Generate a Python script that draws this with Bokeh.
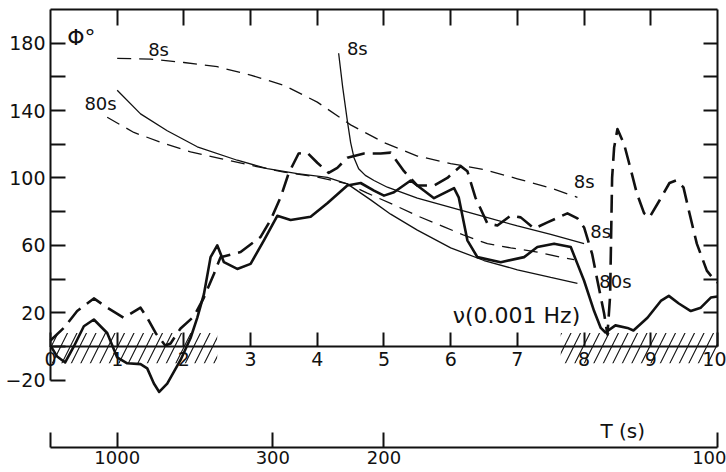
from bokeh.plotting import figure
from bokeh.models import Range1d, LinearAxis, FixedTicker, CustomJSTickFormatter
from bokeh.core.properties import value
from bokeh.embed import file_html
from bokeh.resources import INLINE

INK = "#111111"
FONT = "DejaVu Sans"

# ---- data: frequency nu (mHz) vs phase Phi (degrees) ----
# model curves (thin)
model_dash_8s_x = [1.0, 1.5, 2.0, 2.5, 3.0, 3.5, 4.0, 4.5, 5.0, 5.5, 6.0, 6.5, 7.0, 7.5, 7.9]
model_dash_8s_y = [171, 170.5, 168.5, 166, 161, 155, 145, 131.5, 121, 113, 108.5, 105, 99.5, 94, 88.5]

model_dash_80s_x = [0.85, 1.25, 1.7, 2.1, 2.55, 3.0, 3.5, 4.0, 4.45, 4.75, 5.15, 5.5, 5.9, 6.2, 6.55, 6.9, 7.3, 7.65, 7.85]
model_dash_80s_y = [136, 127, 120.5, 115.5, 111.5, 107.5, 103.5, 100.5, 96.5, 91, 84, 77.5, 71, 66, 61, 58.5, 56, 53, 51.5]

model_solid_80s_x = [1.0, 1.35, 1.75, 2.2, 2.8, 3.25, 3.7, 4.15, 4.45, 4.8, 5.1, 5.5, 6.0, 6.5, 7.0, 7.5, 7.9]
model_solid_80s_y = [152, 138, 128, 118.5, 110.5, 105.5, 102.5, 100.3, 96.5, 87, 78.5, 69, 58.5, 51, 45.5, 41, 37.5]

model_solid_8s_x = [4.32, 4.38, 4.45, 4.5, 4.55, 4.62, 4.72, 4.85, 5.05, 5.5, 6.0, 6.5, 7.0, 7.5, 8.0]
model_solid_8s_y = [174, 154, 134, 121, 112, 105.5, 101.5, 98.5, 94.5, 88, 82.5, 77, 71.5, 66.5, 61]

# observed curves (thick)
obs_solid_x = [0.0, 0.1, 0.22, 0.35, 0.5, 0.65, 0.85, 1.0, 1.15, 1.35, 1.45, 1.55, 1.63, 1.75, 1.95,
               2.1, 2.2, 2.3, 2.4, 2.5, 2.6, 2.8, 3.0, 3.2, 3.4, 3.6, 3.9, 4.15, 4.45, 4.65, 4.85,
               5.0, 5.15, 5.4, 5.75, 6.05, 6.12, 6.25, 6.4, 6.75, 7.1, 7.3, 7.55, 7.8, 7.9, 8.0,
               8.15, 8.25, 8.32, 8.47, 8.65, 8.74, 8.95, 9.15, 9.27, 9.42, 9.6, 9.75, 9.9, 10.0]
obs_solid_y = [0.5, -6, -9.5, 0, 12, 16, 8, -6.5, -10, -10.5, -13, -22, -27, -22, -8,
               5, 17, 31, 53, 60, 50, 46, 49, 63, 77.5, 75, 77, 85, 95.5, 97, 92.5,
               89.5, 91.5, 98.5, 88, 94, 88.5, 63, 53, 50, 53, 59, 61, 59, 49, 39,
               21, 11, 8.3, 12.5, 11, 9.5, 17, 27, 30, 25.5, 21, 23, 29, 29.7]

obs_dash_x = [0.0, 0.2, 0.4, 0.65, 0.85, 1.1, 1.35, 1.45, 1.58, 1.72, 1.8, 1.95, 2.15, 2.3, 2.45,
              2.55, 2.85, 3.15, 3.3, 3.45, 3.57, 3.72, 3.85, 4.0, 4.17, 4.3, 4.45, 4.7, 4.95, 5.1,
              5.3, 5.5, 5.75, 5.95, 6.15, 6.25, 6.37, 6.55, 6.7, 6.9, 7.05, 7.25, 7.45, 7.75, 7.9,
              8.0, 8.12, 8.2, 8.3, 8.35, 8.39, 8.42, 8.45, 8.5, 8.6, 8.68, 8.79, 8.9, 8.98, 9.13,
              9.28, 9.38, 9.49, 9.58, 9.69, 9.84, 9.96, 10.0]
obs_dash_y = [3.5, 11, 21, 28.5, 23, 17, 23, 17, 7.7, 0.6, 1.8, 10.7, 17.8, 29, 43,
              53, 56, 65, 75, 88.5, 102.7, 114.5, 115, 109, 103, 106, 112, 114.5, 114.5, 115,
              104, 95.5, 95.5, 100, 107, 104, 88.4, 73, 71.8, 77.7, 76.6, 70, 73.6, 79, 76,
              70.6, 55, 39, 19.6, 7, 30, 100, 118, 129, 120, 108, 91, 79, 76.6, 86.6,
              97, 98.5, 94.4, 79, 61, 45, 39, 38]

# curve labels
curve_labels = ["8s", "80s", "8s", "8s", "8s", "80s"]
curve_label_x = [1.62, 0.75, 4.60, 8.0, 8.25, 8.47]
curve_label_y = [176, 144, 177, 98, 68, 38.6]

# axes
nu_ticks = [0, 1, 2, 3, 4, 5, 6, 7, 8, 9, 10]
phi_major = [-20, 20, 60, 100, 140, 180]
phi_minor = [0, 40, 80, 120, 160]
right_ticks = [20, 40, 60, 80, 100, 120, 140, 160, 180]
period_ticks = [1000, 300, 200, 100]   # T (s) ; nu = 1000 / T (mHz)

# shaded (hatched) bands along the zero line
hatch_left = [0.0, 7.65]
hatch_right = [2.5, 10.0]
hatch_bottom = [-10, -10]
hatch_top = [8, 8]

p = figure(width=726, height=472,
           x_range=Range1d(-0.7496, 10.135), y_range=Range1d(-74.8, 205.3),
           output_backend="svg", toolbar_location=None,
           x_axis_type=None, y_axis_type=None, min_border=0)
p.outline_line_color = None
p.background_fill_color = "white"
p.border_fill_color = "white"


def make_axis(loc, bounds, ticks, tick_len, minor=None, labels=True, standoff=5, size="19px"):
    ax = LinearAxis(fixed_location=loc, bounds=bounds,
                    ticker=FixedTicker(ticks=ticks, minor_ticks=minor or []),
                    major_tick_in=tick_len, major_tick_out=0,
                    minor_tick_in=tick_len, minor_tick_out=0,
                    axis_line_color=INK, axis_line_width=2,
                    major_tick_line_color=INK, major_tick_line_width=2,
                    minor_tick_line_color=INK, minor_tick_line_width=2,
                    major_label_standoff=standoff,
                    major_label_text_font=FONT, major_label_text_font_size=size,
                    major_label_text_color=INK)
    if not labels:
        ax.formatter = CustomJSTickFormatter(code="return ''")
    return ax


p.add_layout(make_axis(0, (-20, 200), phi_major, 15, minor=phi_minor, standoff=5), "left")
p.add_layout(make_axis(200, (0, 10), nu_ticks[1:-1], 16, labels=False), "above")
p.add_layout(make_axis(10, (0, 200), right_ticks, 14, labels=False), "right")
p.add_layout(make_axis(0, (0, 10), nu_ticks, 14, standoff=6), "below")

t_ax = make_axis(-60, (0, 10), [0] + [1000.0 / t for t in period_ticks], 15, standoff=3, size="18px")
t_ax.formatter = CustomJSTickFormatter(code="return tick > 0 ? String(Math.round(1000 / tick)) : ''")
p.add_layout(t_ax, "below")

# hatched bands
p.quad(left=hatch_left, right=hatch_right, bottom=hatch_bottom, top=hatch_top,
       fill_color=None, line_color=None, hatch_pattern="/", hatch_color=INK,
       hatch_scale=19, hatch_weight=1.1)

# model curves
p.line(model_dash_8s_x, model_dash_8s_y, line_color=INK, line_width=1.3, line_dash="14 8")
p.line(model_dash_80s_x, model_dash_80s_y, line_color=INK, line_width=1.3, line_dash="14 8")
p.line(model_solid_80s_x, model_solid_80s_y, line_color=INK, line_width=1.3)
p.line(model_solid_8s_x, model_solid_8s_y, line_color=INK, line_width=1.3)

# observed curves
p.line(obs_solid_x, obs_solid_y, line_color=INK, line_width=2.6, line_join="round")
p.line(obs_dash_x, obs_dash_y, line_color=INK, line_width=2.6, line_dash="18 8", line_join="round")

# labels
p.text(x=curve_label_x, y=curve_label_y, text=curve_labels, text_font=value(FONT),
       text_font_size="18px", text_align="center", text_baseline="middle", text_color=INK)
p.text(x=[0.25], y=[183.4], text=["Φ°"], text_font=value(FONT), text_font_size="22px",
       text_align="left", text_baseline="middle", text_color=INK)
p.text(x=[6.03], y=[18.4], text=["ν(0.001 Hz)"], text_font=value(FONT), text_font_size="22px",
       text_align="left", text_baseline="middle", text_color=INK)
p.text(x=[8.58], y=[-49.9], text=["T (s)"], text_font=value(FONT), text_font_size="20px",
       text_align="center", text_baseline="middle", text_color=INK)

open("out.html", "w").write(file_html(p, INLINE))
